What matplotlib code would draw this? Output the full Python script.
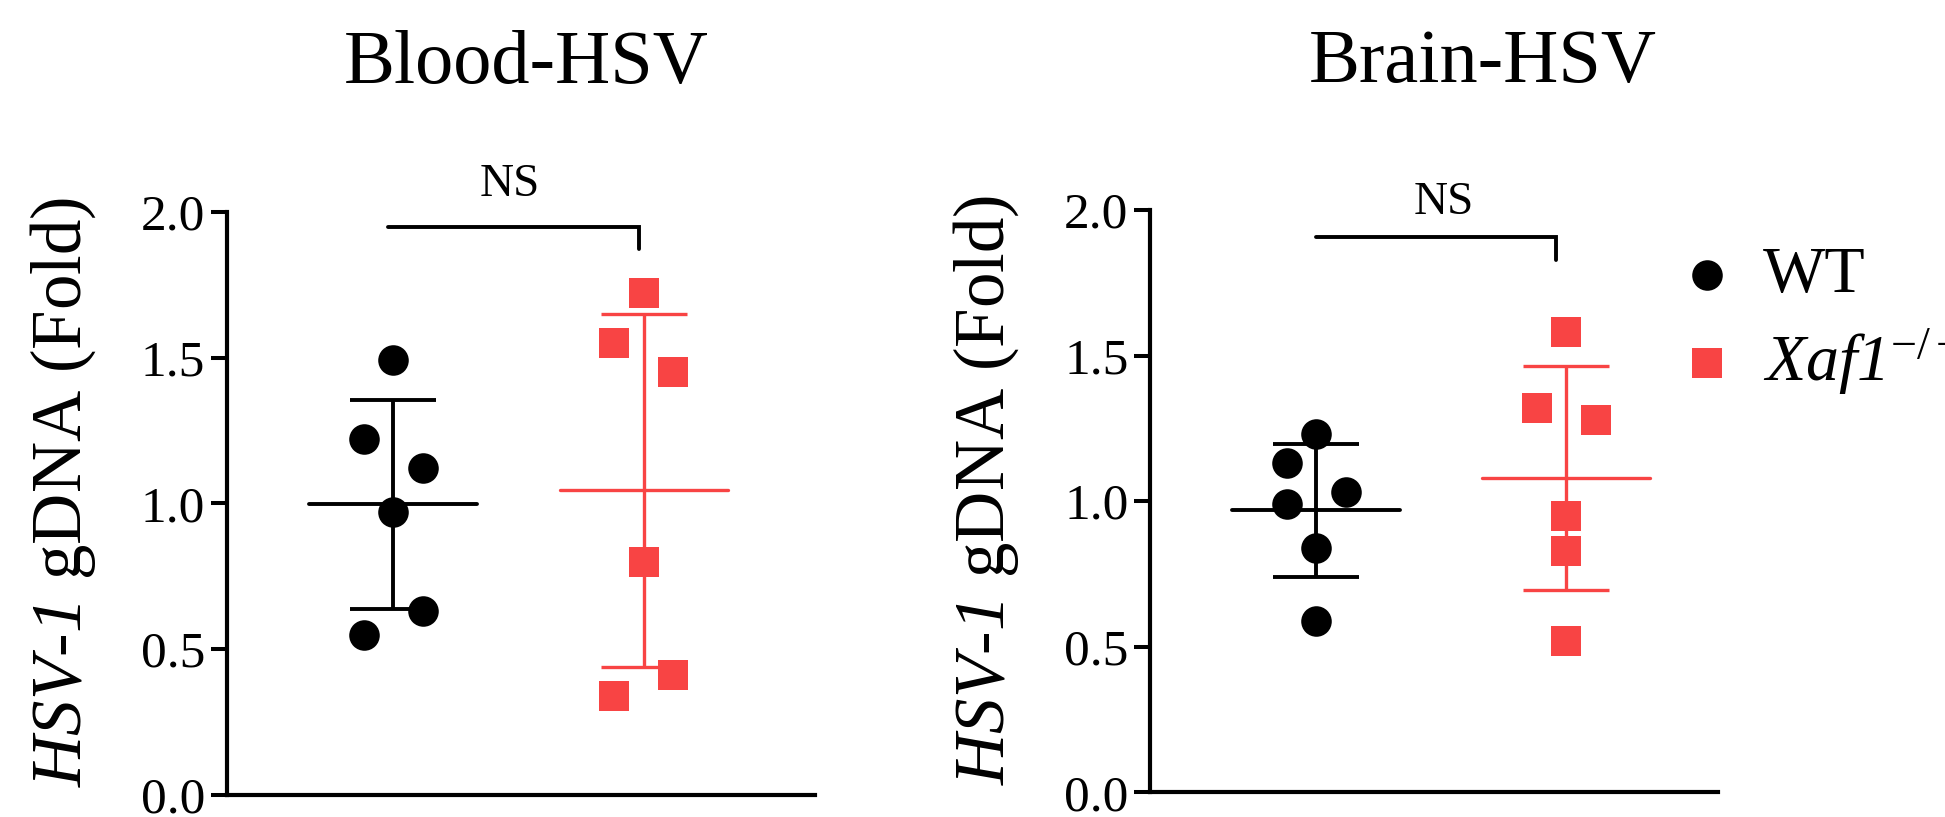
import numpy as np
import matplotlib
matplotlib.use('Agg')
import matplotlib.pyplot as plt

plt.rcParams['font.family'] = 'Liberation Serif'
plt.rcParams['mathtext.fontset'] = 'custom'
plt.rcParams['mathtext.rm'] = 'Liberation Serif'
plt.rcParams['mathtext.it'] = 'Liberation Serif:italic'
# sf slot used for italic text whose digits must stay italic too
plt.rcParams['mathtext.sf'] = 'Liberation Serif:italic'

# ── data ───────────────────────────────────────────────────
groups = ["WT", r"$\mathsf{Xaf1}^{\mathrm{-/-}}$"]
panel_titles = ["Blood-HSV", "Brain-HSV"]
ylabel = r"$\mathsf{HSV}$-$\mathsf{1}$ gDNA (Fold)"
yticks = [0.0, 0.5, 1.0, 1.5, 2.0]

blood_wt = [1.49, 1.22, 1.12, 0.97, 0.63, 0.55]
blood_ko = [1.72, 1.55, 1.45, 0.80, 0.41, 0.34]
brain_wt = [1.23, 1.13, 1.03, 0.99, 0.84, 0.59]
brain_ko = [1.58, 1.32, 1.28, 0.95, 0.83, 0.52]

# column-scatter slot of each point (-1 left, 0 centre, 1 right)
blood_wt_slot = [0, -1, 1, 0, 1, -1]
blood_ko_slot = [0, -1, 1, 0, 1, -1]
brain_wt_slot = [0, -1, 1, -1, 0, 0]
brain_ko_slot = [0, -1, 1, 0, 0, 0]

sig_label = "NS"

# ── style ─────────────────────────────────────────────────
BLACK = 'black'
RED = '#F84444'
colors = [BLACK, RED]
markers = ['o', 's']
JITTER = 0.118
MEAN_HALF = 0.335

fig = plt.figure(figsize=(19.45, 8.17), dpi=100)
ax1 = fig.add_axes([0.1166, 0.0269, 0.3025, 0.714])
ax2 = fig.add_axes([0.5913, 0.0302, 0.2920, 0.7127])

panels = [
    (ax1, [blood_wt, blood_ko], [blood_wt_slot, blood_ko_slot], (-0.665, 1.684),
     (-0.02, 0.98, 1.948, 1.871), (0.466, 2.053), 0.509, -0.219),
    (ax2, [brain_wt, brain_ko], [brain_wt_slot, brain_ko_slot], (-0.664, 1.608),
     (0.0, 0.96, 1.906, 1.830), (0.51, 1.985), 0.585, -0.228),
]

for k, (ax, series, slots, xlim, bracket, ns_pos, title_x, ylab_x) in enumerate(panels):
    for i, (vals, slot) in enumerate(zip(series, slots)):
        vals = np.array(vals)
        xs = i + JITTER * np.array(slot)
        ax.scatter(xs, vals, s=484, marker=markers[i], color=colors[i],
                   linewidths=0, zorder=3, label=groups[i], clip_on=False)
        m = vals.mean()
        sd = vals.std(ddof=1)
        lw = 2.8 if i == 0 else 2.4
        ax.hlines(m, i - MEAN_HALF, i + MEAN_HALF, color=colors[i], lw=lw,
                  capstyle='round', zorder=2)
        ax.errorbar(i, m, yerr=sd, fmt='none', ecolor=colors[i], elinewidth=lw,
                    capsize=31, capthick=lw, zorder=2)

    x0, x1, yb, yb2 = bracket
    ax.plot([x0, x1, x1], [yb, yb, yb2], color=BLACK, lw=2.8,
            solid_capstyle='round', solid_joinstyle='miter', clip_on=False)
    ax.text(ns_pos[0], ns_pos[1], sig_label, ha='center', va='baseline',
            fontsize=34)

    ax.set_xlim(*xlim)
    ax.set_ylim(0, 2.0)
    ax.set_yticks(yticks)
    ax.set_yticklabels([f"{t:.1f}" for t in yticks])
    ax.set_xticks([])
    ax.spines['top'].set_visible(False)
    ax.spines['right'].set_visible(False)
    ax.spines['left'].set_linewidth(3)
    ax.spines['bottom'].set_linewidth(3)
    ax.tick_params(axis='y', length=11.5, width=2.9, pad=4, labelsize=37)

    ax.set_ylabel(ylabel, fontsize=51)
    ax.yaxis.set_label_coords(ylab_x, 0.52)
    ax.set_title(panel_titles[k], fontsize=55, x=title_x, y=1.2207, pad=0)

fig.legend(*ax2.get_legend_handles_labels(), loc='upper left',
           bbox_to_anchor=(0.864, 0.699), frameon=False, fontsize=47.5,
           handlelength=0.8, handletextpad=0.45, borderpad=0,
           borderaxespad=0, labelspacing=0.3, markerscale=1)

fig.savefig('out.png', dpi=100)
plt.close(fig)
